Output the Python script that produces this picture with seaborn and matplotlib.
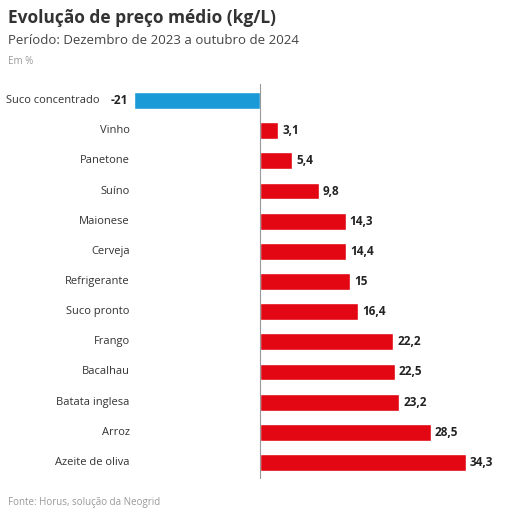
import matplotlib
matplotlib.use("Agg")
import matplotlib.pyplot as plt
import seaborn as sns
import pandas as pd

categories = ["Suco concentrado", "Vinho", "Panetone", "Suíno", "Maionese", "Cerveja",
              "Refrigerante", "Suco pronto", "Frango", "Bacalhau", "Batata inglesa",
              "Arroz", "Azeite de oliva"]
values = [-21, 3.1, 5.4, 9.8, 14.3, 14.4, 15, 16.4, 22.2, 22.5, 23.2, 28.5, 34.3]
labels = ["-21", "3,1", "5,4", "9,8", "14,3", "14,4", "15", "16,4", "22,2", "22,5", "23,2", "28,5", "34,3"]

sns.set_theme(style="white")
plt.rcParams['font.family'] = ['Open Sans', 'DejaVu Sans']

df = pd.DataFrame({"cat": categories, "val": values})
colors = ["#1a9ad6" if v < 0 else "#e30613" for v in values]

fig = plt.figure(figsize=(5.11, 5.17), dpi=100)
ax = fig.add_axes([0.262, 0.0735, 0.716, 0.764])
sns.barplot(data=df, x="val", y="cat", hue="cat", palette=colors, legend=False,
            width=0.56, ax=ax, saturation=1)
ax.set_xlim(-21, 40)
ax.set_ylim(12.55, -0.55)
ax.axvline(0, color="#999999", lw=0.8)
for s in ax.spines.values():
    s.set_visible(False)
ax.set_xticks([])
ax.set_yticks([])
ax.set_xlabel("")
ax.set_ylabel("")
for i, (c, v, l) in enumerate(zip(categories, values, labels)):
    off = -25 if v < 0 else -3
    ax.annotate(c, xy=(-21, i), xytext=(off, 0), textcoords="offset points",
                ha="right", va="center", fontsize=8, color="#333333", annotation_clip=False)
    if v < 0:
        ax.annotate(l, xy=(v, i), xytext=(-4, 0), textcoords="offset points",
                    ha="right", va="center", fontsize=8.5, fontweight="bold", color="#222222",
                    annotation_clip=False)
    else:
        ax.annotate(l, xy=(v, i), xytext=(3, 0), textcoords="offset points",
                    ha="left", va="center", fontsize=8.5, fontweight="bold", color="#222222")

fig.text(0.016, 1 - 18/517, "Evolução de preço médio (kg/L)", fontsize=12.5, fontweight="bold",
         color="#333333", va="center")
fig.text(0.016, 1 - 41/517, "Período: Dezembro de 2023 a outubro de 2024", fontsize=9.5,
         color="#444444", va="center")
fig.text(0.016, 1 - 62/517, "Em %", fontsize=7, color="#999999", va="center")
fig.text(0.016, 1 - 503/517, "Fonte: Horus, solução da Neogrid", fontsize=7, color="#999999", va="center")

fig.savefig("out.png", dpi=100)
